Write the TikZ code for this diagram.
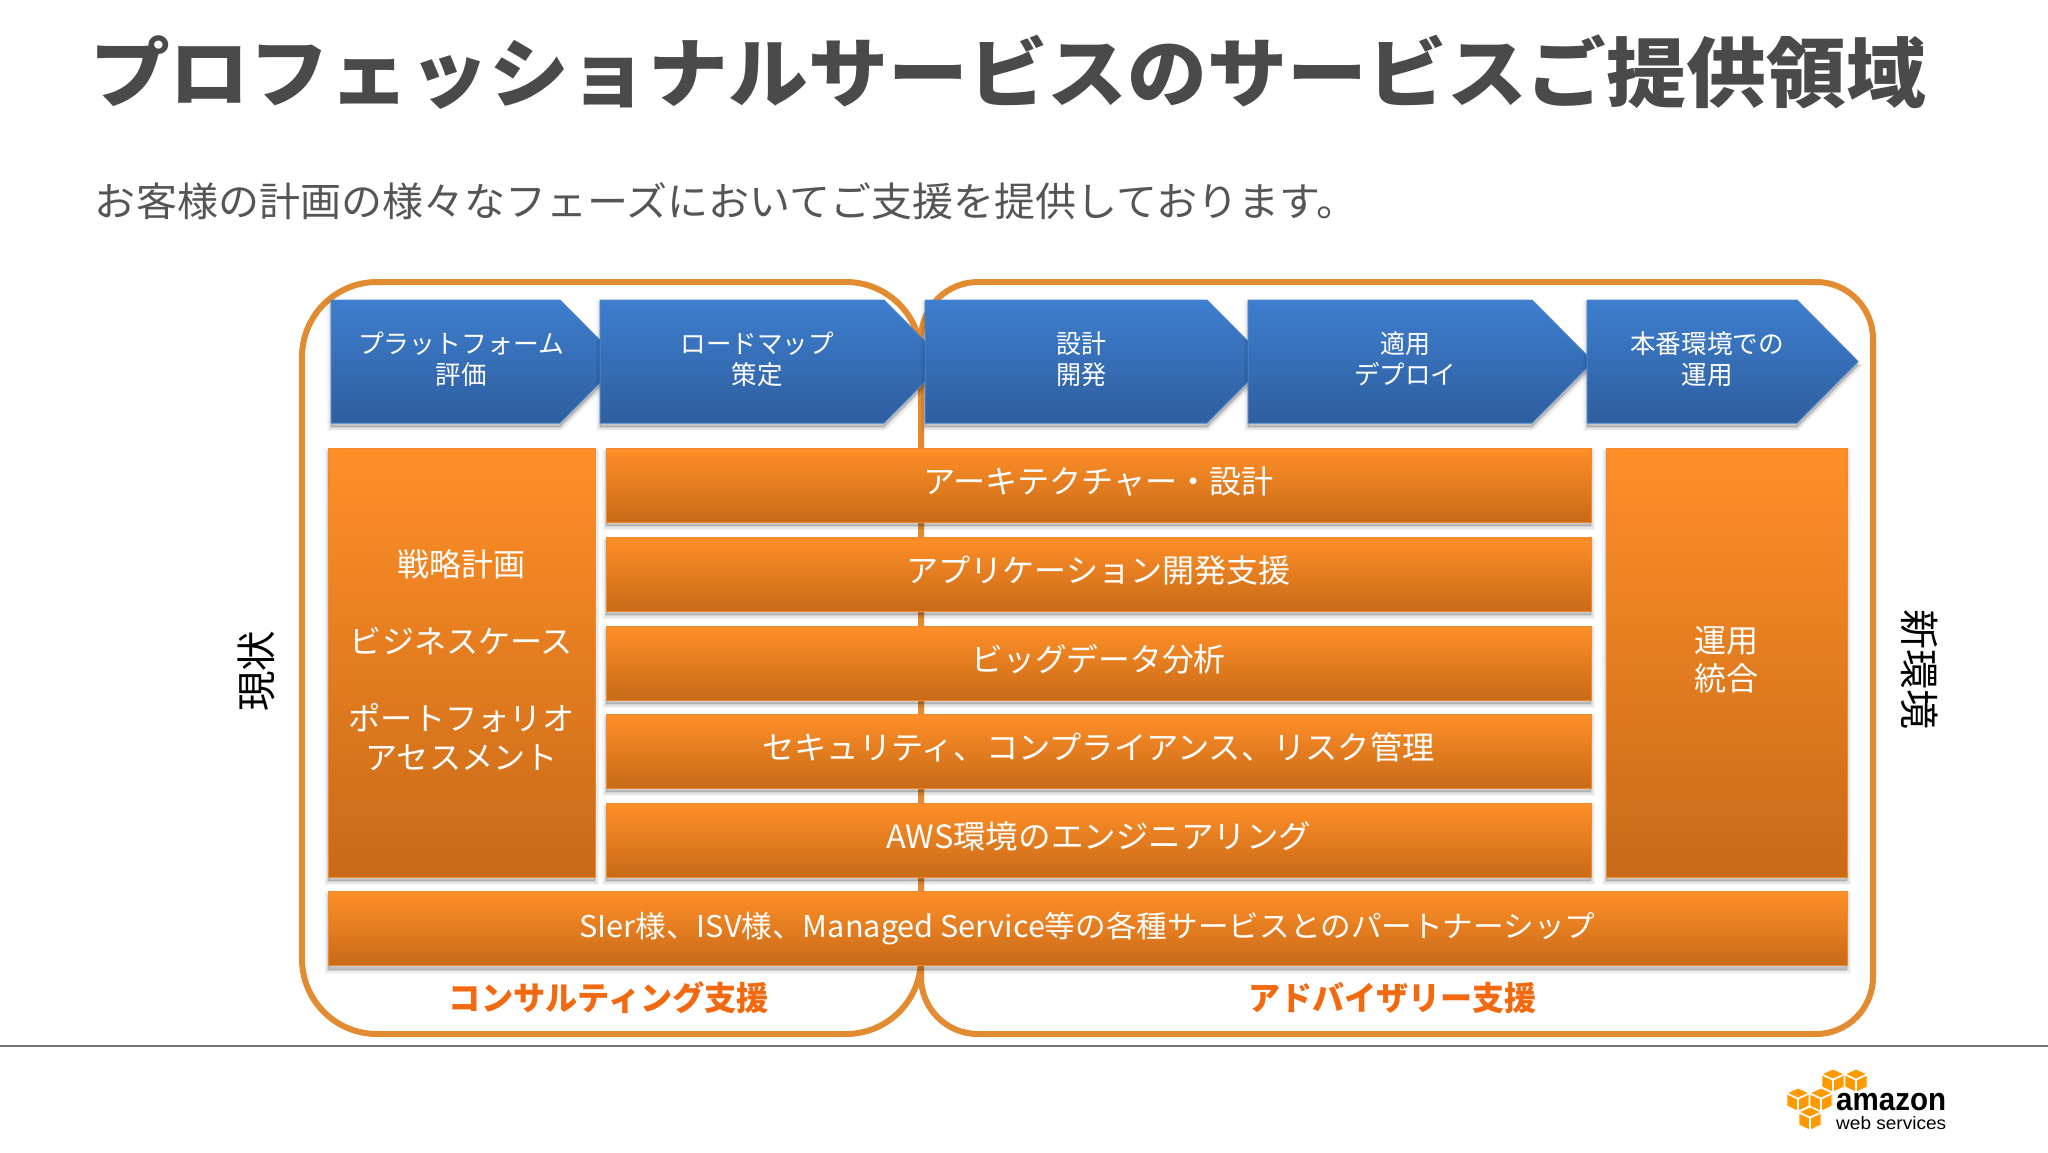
\documentclass[tikz,border=0pt]{standalone}
\usepackage{graphicx}
\usepackage{fontspec}
\setmainfont{Noto Sans CJK JP}
\newfontfamily\jp{Noto Sans CJK JP}
\newfontfamily\logofont{Liberation Sans}
\definecolor{ringc}{HTML}{E38B30}
\definecolor{bluetop}{HTML}{3E7ECE}
\definecolor{bluebot}{HTML}{2E5E9E}
\definecolor{blueedge}{HTML}{4A84CC}
\definecolor{orgtop}{HTML}{FF8F28}
\definecolor{orgbot}{HTML}{C86A18}
\definecolor{orgedge}{HTML}{F08A30}
\definecolor{titlec}{HTML}{4A4A4A}
\definecolor{subc}{HTML}{555555}
\definecolor{labc}{HTML}{F2690F}
\definecolor{cubec}{HTML}{FF9900}
\newcommand{\fitw}[2]{\resizebox{#1pt}{\height}{#2}}
\tikzset{
  softshadow/.style={
    preaction={draw=black,fill=black,draw opacity=.04,fill opacity=.04,line width=8pt,transform canvas={yshift=-4pt}},
    preaction={draw=black,fill=black,draw opacity=.06,fill opacity=.06,line width=5pt,transform canvas={yshift=-4pt}},
    preaction={draw=black,fill=black,draw opacity=.08,fill opacity=.08,line width=2pt,transform canvas={yshift=-4pt}}},
  ring/.style={draw=ringc,line width=6pt},
  chevronbox/.style={softshadow,top color=bluetop,bottom color=bluebot,draw=blueedge,line width=1pt},
  chevtext/.style={text=white,align=center,inner sep=0pt,font=\jp\fontsize{26}{31}\selectfont},
  orgbox/.style={softshadow,top color=orgtop,bottom color=orgbot,draw=orgedge,line width=1pt,
    text=white,align=center,inner sep=0pt,font=\jp\fontsize{32}{38.5}\selectfont},
  barbox/.style={orgbox,minimum width=985pt,minimum height=74pt},
  sidelabel/.style={text=black,inner sep=0pt,font=\jp\fontsize{40}{40}\selectfont},
  grouplabel/.style={text=labc,inner sep=0pt,font=\jp\bfseries\fontsize{33}{33}\selectfont},
  cubeface/.style={fill=cubec,draw=white,line width=.8pt,line join=round}
}
\newcommand{\chev}[3]{\path[chevronbox] (#1,300) -- (#2,300) -- (#3,361.5) -- (#2,423) -- (#1,423) -- cycle;}
\newcommand{\cube}[2]{%
  \path[cubeface,shift={(#1,#2)}] (-11,-6) -- (0,-11) -- (11,-6) -- (0,-1) -- cycle;
  \path[cubeface,shift={(#1,#2)}] (-11,-5) -- (-.5,0) -- (-.5,12) -- (-11,7) -- cycle;
  \path[cubeface,shift={(#1,#2)}] (11,-5) -- (.5,0) -- (.5,12) -- (11,7) -- cycle;}
\begin{document}
\begin{tikzpicture}[x=1pt,y=-1pt]
\useasboundingbox (0,0) rectangle (2048,1152);
\fill[white] (0,0) rectangle (2048,1152);

\node[text=titlec,inner sep=0pt,font=\jp\bfseries\fontsize{76}{76}\selectfont] (title) at (1008,72)
  {\fitw{1836}{プロフェッショナルサービスのサービスご提供領域}};
\node[text=subc,inner sep=0pt,font=\jp\fontsize{40}{40}\selectfont] (subtitle) at (726,201)
  {\fitw{1262}{お客様の計画の様々なフェーズにおいてご支援を提供しております。}};

% group outlines
\draw[ring,rounded corners=75pt] (302,282) rectangle (921,1034);
\draw[ring,rounded corners=57pt] (921,282) rectangle (1873,1034);

% chevrons
\chev{331}{560}{621}
\chev{600}{884}{945}
\chev{925}{1207}{1268}
\chev{1248}{1532}{1593}
\chev{1587}{1797}{1858}
\node[chevtext] (c1) at (461,359) {\fitw{206}{プラットフォーム}\\\fitw{51}{評価}};
\node[chevtext] (c2) at (757,359) {\fitw{153}{ロードマップ}\\\fitw{51}{策定}};
\node[chevtext] (c3) at (1081,359) {\fitw{50}{設計}\\\fitw{50}{開発}};
\node[chevtext] (c4) at (1405,359) {\fitw{50}{適用}\\\fitw{102}{デプロイ}};
\node[chevtext] (c5) at (1707,359) {\fitw{154}{本番環境での}\\\fitw{51}{運用}};

% columns
\node[orgbox,minimum width=267pt,minimum height=429pt] (leftcol) at (461.5,662.5)
  {\raisebox{-2.6pt}[\height][\depth]{\begin{tabular}{@{}c@{}}\fitw{128}{戦略計画}\\[38.5pt]\fitw{223}{ビジネスケース}\\[38.5pt]\fitw{226}{ポートフォリオ}\\\fitw{192}{アセスメント}\end{tabular}}};
\node[orgbox,minimum width=241pt,minimum height=429pt] (rightcol) at (1726.5,662.5)
  {\raisebox{-1.3pt}[\height][\depth]{\begin{tabular}{@{}c@{}}\fitw{64}{運用}\\\fitw{64}{統合}\end{tabular}}};

% bars
\node[barbox] (b1) at (1098.5,485) {\raisebox{10pt}{\fitw{351}{アーキテクチャー・設計}}};
\node[barbox] (b2) at (1098.5,574) {\raisebox{10pt}{\fitw{384}{アプリケーション開発支援}}};
\node[barbox] (b3) at (1098.5,663) {\raisebox{10pt}{\fitw{254}{ビッグデータ分析}}};
\node[barbox] (b4) at (1098.5,751) {\raisebox{10pt}{\fitw{672}{セキュリティ、コンプライアンス、リスク管理}}};
\node[barbox] (b5) at (1098.5,840) {\raisebox{10pt}{\fitw{425}{AWS環境のエンジニアリング}}};
\node[orgbox,minimum width=1519pt,minimum height=74pt,font=\jp\fontsize{30}{36}\selectfont] (partner) at (1087.5,928.5)
  {\raisebox{3pt}{\fitw{1016}{SIer様、ISV様、Managed Service等の各種サービスとのパートナーシップ}}};

% labels
\node[grouplabel] (consult) at (609,998) {\fitw{320}{コンサルティング支援}};
\node[grouplabel] (advise) at (1392,998) {\fitw{288}{アドバイザリー支援}};
\node[sidelabel,rotate=90] (now) at (256,671) {\fitw{81}{現状}};
\node[sidelabel,rotate=-90] (newenv) at (1920,669) {\fitw{120}{新環境}};

% footer rule
\coordinate (ruleL) at (0,1046);
\coordinate (ruleR) at (2048,1046);
\draw[black!55,line width=1.2pt] (ruleL) -- (ruleR);

% logo
\cube{1833}{1080}
\cube{1856}{1080}
\cube{1798}{1099}
\cube{1821}{1099}
\cube{1810}{1118}
\node[anchor=base west,inner sep=0pt,text=black,font=\logofont\bfseries\fontsize{32}{32}\selectfont] (amz) at (1836,1110) {\fitw{110}{amazon}};
\node[anchor=base west,inner sep=0pt,text=black,font=\logofont\fontsize{18}{18}\selectfont] (aws) at (1836,1129) {\fitw{110}{web services}};
\end{tikzpicture}
\end{document}
